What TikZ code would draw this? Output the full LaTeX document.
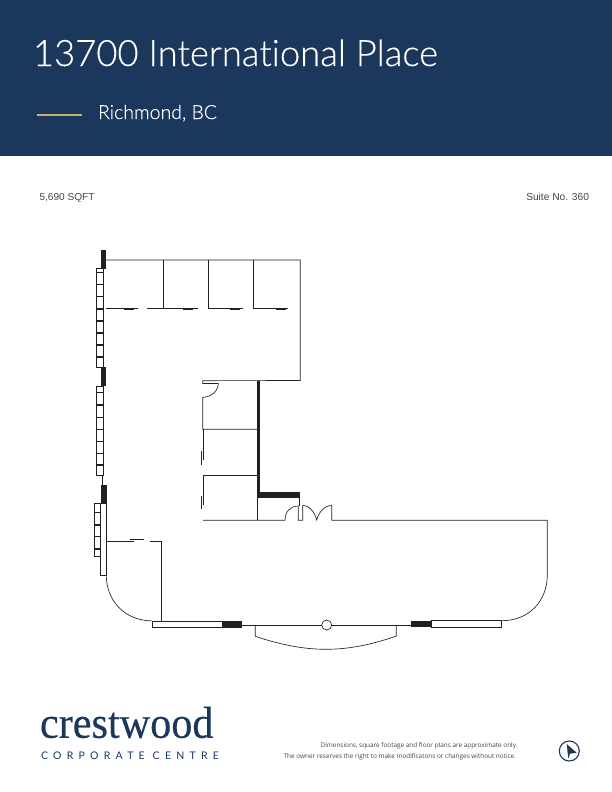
\documentclass[tikz,border=0pt]{standalone}
\usepackage{fontspec}
\setmainfont{Lato}
\newfontfamily\ttlfont[Ligatures=NoCommon,FakeBold=0.25]{Lato Light}
\newfontfamily\smallfont{Liberation Sans}
\newfontfamily\notefont{Open Sans}
\newfontfamily\logofont[FakeBold=0.4]{Liberation Serif}
\newfontfamily\subfont[LetterSpace=50]{Lato}
\definecolor{navy}{HTML}{1C375C}
\definecolor{gold}{HTML}{C9AE74}
\definecolor{wallc}{HTML}{231F20}
\definecolor{notec}{HTML}{444444}
\tikzset{
  wall/.style={draw=wallc,line width=0.65pt},
  solidwall/.style={fill=wallc,draw=none},
  win/.style={draw=wallc,line width=0.7pt,fill=white},
  winbar/.style={draw=wallc,line width=1.4pt},
  lbl/.style={inner sep=0pt,outer sep=0pt}
}
\begin{document}
\begin{tikzpicture}[x=1pt,y=-1pt]
\useasboundingbox (0,0) rectangle (612,792);
\fill[navy] (0,0) rectangle (612,156);
\node[lbl,anchor=base west,text=white] (title) at (33,66)
  {\resizebox{405pt}{!}{\ttlfont\fontsize{34}{34}\selectfont 13700 International Place}};
\node[lbl,anchor=base west,text=white] (city) at (98,119)
  {\resizebox{119pt}{!}{\ttlfont\fontsize{18}{18}\selectfont Richmond, BC}};
\draw[gold,line width=1.6pt] (37,115) -- (82,115);
\node[lbl,anchor=base west,text=notec] (area) at (39.5,200.5) {\smallfont\fontsize{10.1}{10.1}\selectfont 5,690 SQFT};
\node[lbl,anchor=base east,text=notec] (suite) at (589,200.5) {\smallfont\fontsize{10.2}{10.2}\selectfont Suite No. 360};

% solid walls
\fill[solidwall] (101,250) rectangle (106,268.7);
\fill[solidwall] (101,367.3) rectangle (106,386);
\fill[solidwall] (101,485) rectangle (106.5,503.3);
\fill[solidwall] (257,380.7) rectangle (260.3,497.7);
\fill[solidwall] (257,492.3) rectangle (300,497.7);
\fill[solidwall] (222.3,621.3) rectangle (242,627.7);
\fill[solidwall] (411,620.7) rectangle (431.5,627);

% windows
\draw[win] (96.5,268.7) rectangle (103.5,367.3);
\foreach \y in {272.7,284.5,296.7,309,321,333,345,357}
  \draw[winbar] (96.5,\y) -- (103.5,\y);
\draw[win] (96.5,386.3) rectangle (103.5,475.3);
\foreach \y in {392.7,405,417.3,429.3,441.3,453.3,465}
  \draw[winbar] (96.5,\y) -- (103.5,\y);
\draw[win] (94.3,503.3) rectangle (100.3,556.7);
\foreach \y in {512.7,525,536.7,549}
  \draw[winbar] (94.3,\y) -- (100.3,\y);
\draw[win] (100.3,503.3) rectangle (106.3,575.3);
\draw[win] (152.3,621.3) rectangle (222.3,627.7);
\draw[win] (431.5,620.7) rectangle (501.7,627.5);

% upper wing
\draw[wall] (106,260) -- (300.3,260) -- (300.3,380.5) -- (202.7,380.7) -- (202.7,383.5) -- (218.3,383.5)
  .. controls (218.3,391) and (211,397.3) .. (202.7,397.3) -- (202.7,429.3) -- (257.7,429.3);
\draw[wall] (163.3,260) -- (163.3,308.5);
\draw[wall] (208.3,260) -- (208.3,308.5);
\draw[wall] (253.3,260) -- (253.3,308.5);
\draw[wall] (106,308.5) -- (137.7,308.5);
\draw[wall] (147,308.5) -- (197.7,308.5);
\draw[wall] (208.3,308.5) -- (242.7,308.5);
\draw[wall] (253.3,308.5) -- (288.3,308.5);
\foreach \a/\b in {124/134,183.3/193,230/240,276/286}
  \fill[solidwall] (\a,307.6) rectangle (\b,309.8);

% core
\draw[wall] (203.3,429.3) -- (203.3,460);
\draw[wall] (201.3,451) -- (201.3,465);
\draw[wall] (203.3,505) -- (203.3,475.3) -- (257.7,475.3);
\draw[wall] (201.3,496) -- (201.3,509.3);
\draw[wall] (203,520.3) -- (285,520.3) .. controls (285,512) and (290,506) .. (298.3,506) -- (298.3,520.3) -- (302.7,520.3) -- (302.7,505.5)
  .. controls (310,505.5) and (315,513) .. (316.7,520) .. controls (318.5,513) and (324,505.5) .. (331.7,505.5)
  -- (331.7,520.3) -- (547.3,520.3) -- (547.3,575)
  .. controls (547.3,600) and (530,620.7) .. (501.7,620.7);
\draw[wall] (257.7,497.7) -- (257.7,520.3);
\draw[wall] (299.3,497.7) -- (299.3,506);
\draw[wall] (102.5,475.3) -- (102.5,485);

% lower left room
\draw[wall] (106.3,575.3) .. controls (106.3,600) and (124,620.7) .. (152.3,620.9);
\draw[wall] (106.3,541.3) -- (134,541.3);
\draw[wall] (130,539.3) -- (144,539.3);
\draw[wall] (150,541.3) -- (161.7,541.3) -- (161.7,621.3);

% entrance
\draw[wall] (242,625) -- (411,625);
\draw[wall] (255.3,625) -- (255.3,636.3) .. controls (278,644) and (302,649.3) .. (326,649.3)
  .. controls (350,649.3) and (374,644) .. (396.3,636) -- (396.3,625);
\draw[wall,fill=white] (326.7,625) circle (5);

% logo
\node[lbl,anchor=base west,text=navy] (logo) at (40,737.8)
  {\resizebox{173.5pt}{31pt}{\logofont\fontsize{44}{44}\selectfont crestwood}};
\node[lbl,anchor=base west,text=navy] (corp) at (41,759)
  {\subfont\fontsize{10.5}{10.5}\selectfont CORPORATE CENTRE};

% footer
\node[lbl,anchor=base east,text=notec] (note1) at (517.5,747.5) {\notefont\fontsize{6.4}{6.4}\selectfont Dimensions, square footage and floor plans are approximate only.};
\node[lbl,anchor=base east,text=notec] (note2) at (516,758.5) {\notefont\fontsize{6.4}{6.4}\selectfont The owner reserves the right to make modificatons or changes without notice.};

% north arrow
\draw[navy,line width=1.1pt] (569.3,751) circle (10);
\fill[navy] (566.7,744) -- (576.7,752.7) -- (570,753.7) -- (568.3,758.7) -- cycle;
\end{tikzpicture}
\end{document}
